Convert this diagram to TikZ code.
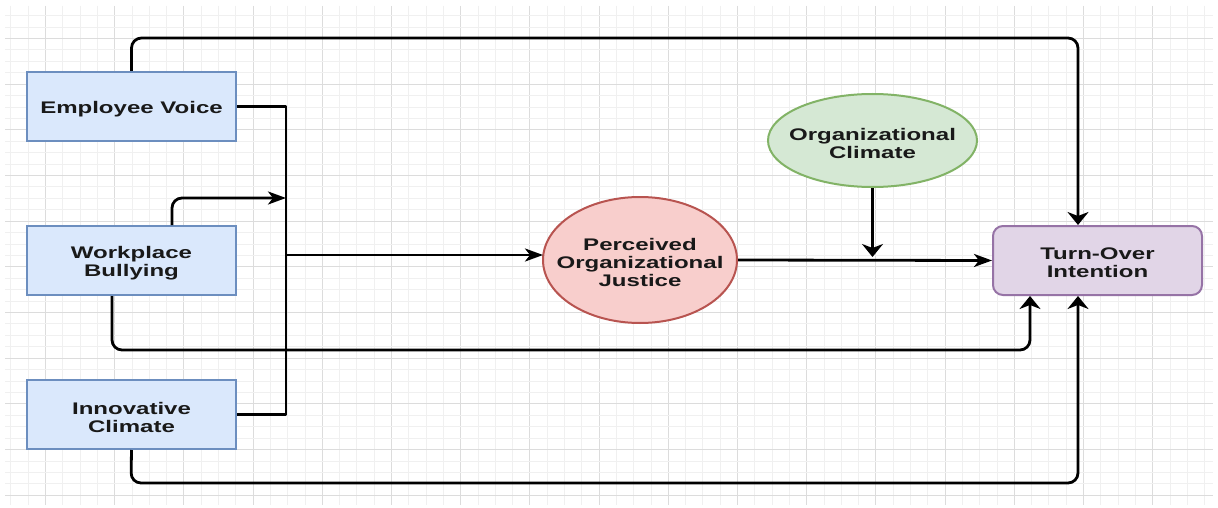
\documentclass[tikz,border=0pt]{standalone}
\usepackage{fontspec}
\newfontfamily\lbl{Liberation Sans}[FakeStretch=1.43]
\usetikzlibrary{arrows.meta,shapes.geometric,calc}
\definecolor{bfill}{HTML}{DAE8FC}
\definecolor{bdraw}{HTML}{6C8EBF}
\definecolor{rfill}{HTML}{F8CECC}
\definecolor{rdraw}{HTML}{B85450}
\definecolor{gfill}{HTML}{D5E8D4}
\definecolor{gdraw}{HTML}{82B366}
\definecolor{pfill}{HTML}{E1D5E7}
\definecolor{pdraw}{HTML}{9673A6}
\definecolor{gminor}{HTML}{F0F0F0}
\definecolor{gmajor}{HTML}{DCDCDC}
\tikzset{
  txt/.style={font=\lbl\bfseries\fontsize{16.8}{18}\selectfont, text=black!90, align=center, inner sep=0pt, yshift=-2.5pt},
  varbox/.style={rectangle, draw=bdraw, fill=bfill, line width=2pt, inner sep=0pt, minimum width=209, minimum height=69},
  outbox/.style={rectangle, rounded corners=10, draw=pdraw, fill=pfill, line width=2pt, inner sep=0pt, minimum width=209, minimum height=69},
  redell/.style={ellipse, draw=rdraw, fill=rfill, line width=2pt, inner sep=0pt, minimum width=194, minimum height=126},
  greenell/.style={ellipse, draw=gdraw, fill=gfill, line width=2pt, inner sep=0pt, minimum width=209, minimum height=93},
  conn/.style={draw=black, line width=2.8pt, line join=round},
  harr/.style={-{Stealth[length=18pt,width=13pt,inset=5pt]}},
  varr/.style={-{Stealth[length=13pt,width=21pt,inset=4pt]}}
}
\begin{document}
\begin{tikzpicture}[x=1pt,y=-1pt]
\useasboundingbox (0,0) rectangle (1218,508);
\fill[white] (0,0) rectangle (1218,508);
% grid
\foreach \i in {-2,...,67}{
  \pgfmathtruncatemacro{\xx}{round(45+17.3*\i)}
  \pgfmathtruncatemacro{\mm}{mod(\i+400,4)}
  \ifnum\mm=0
    \draw[gmajor, line width=1pt] (\xx+0.5,6) -- (\xx+0.5,505);
  \else
    \draw[gminor, line width=1pt] (\xx+0.5,6) -- (\xx+0.5,505);
  \fi
}
\foreach \j in {-2,...,40}{
  \pgfmathtruncatemacro{\yy}{round(38+11.42*\j)}
  \pgfmathtruncatemacro{\mm}{mod(\j+400,4)}
  \ifnum\mm=0
    \draw[gmajor, line width=1pt] (5,\yy+0.5) -- (1213,\yy+0.5);
  \else
    \draw[gminor, line width=1pt] (5,\yy+0.5) -- (1213,\yy+0.5);
  \fi
}
% nodes
\node[varbox] (ev) at (131.5,106.5) {};
\node[txt] (evt) at (ev.center) {Employee Voice};
\node[varbox] (wb) at (131.5,260.5) {};
\node[txt] (wbt') at (wb.center) {Workplace\\Bullying};
\node[varbox] (ic) at (131.5,414.5) {};
\node[txt] (ict) at (ic.center) {Innovative\\Climate};
\node[redell] (pj) at (640,260) {};
\node[txt] (pjt) at (pj.center) {Perceived\\Organizational\\Justice};
\node[greenell] (oc) at (872.5,140.5) {};
\node[txt] (oct) at (oc.center) {Organizational\\Climate};
\node[outbox] (to) at (1097.5,260.5) {};
\node[txt] (tot) at (to.center) {Turn-Over\\Intention};
% helper coordinates
\coordinate (ta) at (1078,38);
\coordinate (bus) at (286,0);
\coordinate (wbt) at (172,198);
\coordinate (wbb) at (112,350);
\coordinate (x1030) at (1030,0);
\coordinate (icb) at (131,483);
\coordinate (pjin) at (543,255);
% connectors
\draw[conn,varr,rounded corners=10] (ev.north) |- (ta) -- (to.north -| ta);
\draw[conn] (ev.east) -- (ev.east -| bus) -- (ic.east -| bus) -- (ic.east);
\draw[conn,harr,rounded corners=10] (wb.north -| wbt) |- (bus |- wbt);
\draw[conn,harr] (bus |- pjin) -- (pjin);
\draw[conn,varr,rounded corners=10] (wb.south -| wbb) -- (wbb) -| (to.south -| x1030);
\draw[conn,varr,rounded corners=10] (ic.south) -- (icb) -| (to.south -| ta);
\draw[conn,harr] (pj.east) -- (to.west);
\draw[conn,varr] (oc.south) -- ($(oc.south |- pj.east)+(0,-3)$);
\end{tikzpicture}
\end{document}
